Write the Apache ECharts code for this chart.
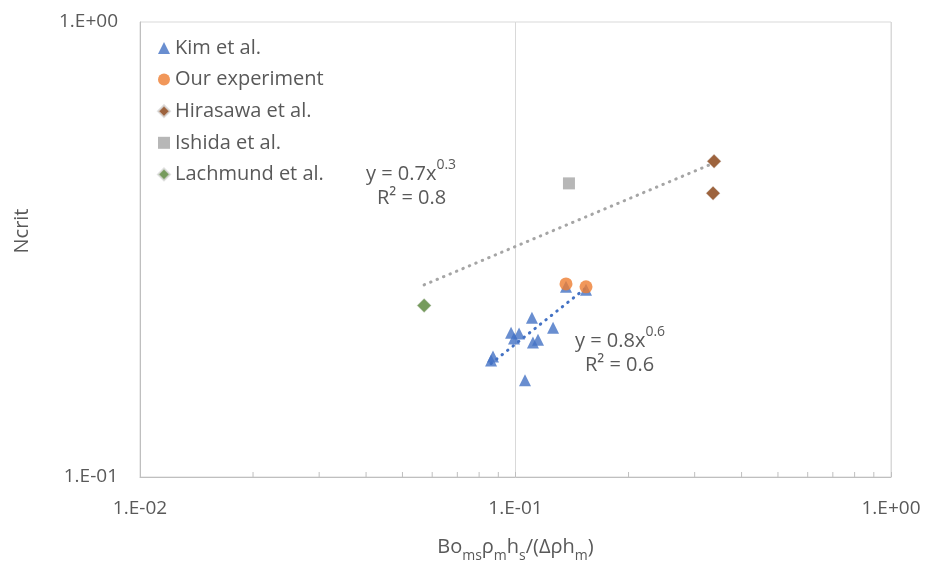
<!DOCTYPE html>
<html><head><meta charset="utf-8">
<script src="https://cdn.jsdelivr.net/npm/echarts@6/dist/echarts.min.js"></script>
<style>html,body{margin:0;padding:0;background:#fff}#c{width:927px;height:568px}</style>
</head><body><div id="c"></div>
<script>
// ---- data ----
const kimX = [0.0861, 0.0871, 0.0973, 0.1022, 0.0991, 0.1106, 0.1259, 0.1113, 0.1148, 0.1060, 0.1363, 0.1541];
const kimY = [0.1803, 0.1840, 0.2076, 0.2066, 0.2015, 0.2239, 0.2129, 0.1975, 0.2004, 0.1631, 0.2618, 0.2578];
const ourX = [0.1363, 0.1541];
const ourY = [0.2657, 0.2618];
const hirX = [0.3379, 0.3358];
const hirY = [0.4940, 0.4204];
const ishX = [0.1388];
const ishY = [0.4419];
const lacX = [0.0571];
const lacY = [0.2382];
// trendline endpoints (power fits as drawn)
const trendGrayX = [0.0571, 0.3379];
const trendGrayY = [0.2644, 0.4900];
const trendBlueX = [0.0861, 0.1541];
const trendBlueY = [0.1776, 0.2604];
const minorTickX = [0.02,0.03,0.04,0.05,0.06,0.07,0.08,0.09,0.2,0.3,0.4,0.5,0.6,0.7,0.8,0.9];
const xTickLabels = {'-2':'1.E-02','-1':'1.E-01','0':'1.E+00'};
const yTickLabels = {'-1':'1.E-01','0':'1.E+00'};
const seriesNames = ['Kim et al.','Our experiment','Hirasawa et al.','Ishida et al.','Lachmund et al.'];

const zip = (a,b) => a.map((v,i) => [v, b[i]]);
const FONT = 'Open Sans';
const TXT = '#595959';
const lab = (map) => (v) => map[String(Math.round(Math.log10(v)))] || '';
const supRich = {
  n: {fontSize: 20, fill: TXT, color: TXT, fontFamily: FONT, lineHeight: 26, verticalAlign: 'bottom'},
  s: {fontSize: 14, fill: TXT, color: TXT, fontFamily: FONT, lineHeight: 17, verticalAlign: 'top'}
};

const chart = echarts.init(document.getElementById('c'));
chart.setOption({
  animation: false,
  backgroundColor: '#fff',
  textStyle: {fontFamily: FONT},
  grid: {left: 140, top: 22, right: 36, bottom: 89, show: true, borderColor: '#d9d9d9', borderWidth: 1},
  xAxis: {
    type: 'log', logBase: 10, min: 0.01, max: 1,
    axisLine: {show: true, lineStyle: {color: '#bfbfbf', width: 1}},
    axisTick: {show: true, inside: true, length: 5, lineStyle: {color: '#bfbfbf'}},
    splitLine: {show: true, lineStyle: {color: '#d9d9d9', width: 1}},
    axisLabel: {formatter: lab(xTickLabels), color: TXT, fontSize: 19, fontFamily: FONT, margin: 22},
    name: '{n|Bo}{s|ms}{n|ρ}{s|m}{n|h}{s|s}{n|/(Δρh}{s|m}{n|)}',
    nameLocation: 'middle', nameGap: 60,
    nameTextStyle: {rich: {
      n: {fontSize: 20, color: TXT, fontFamily: FONT, verticalAlign: 'top', lineHeight: 26},
      s: {fontSize: 14, color: TXT, fontFamily: FONT, verticalAlign: 'bottom', lineHeight: 17}
    }}
  },
  yAxis: {
    type: 'log', logBase: 10, min: 0.1, max: 1,
    axisLine: {show: true, lineStyle: {color: '#bfbfbf', width: 1}},
    axisTick: {show: false},
    splitLine: {show: false},
    axisLabel: {formatter: lab(yTickLabels), color: TXT, fontSize: 19, fontFamily: FONT, margin: 22}
  },
  legend: {
    orient: 'vertical', left: 152, top: 33, itemGap: 11.6, itemWidth: 12, itemHeight: 12,
    textStyle: {color: TXT, fontSize: 20, fontFamily: FONT, lineHeight: 20},
    data: [
      {name: seriesNames[0], icon: 'triangle'},
      {name: seriesNames[1], icon: 'circle'},
      {name: seriesNames[2], icon: 'diamond'},
      {name: seriesNames[3], icon: 'rect'},
      {name: seriesNames[4], icon: 'diamond'}
    ]
  },
  series: [
    {name: seriesNames[0], type: 'scatter', symbol: 'triangle', symbolSize: 12, itemStyle: {color: '#4472C4'}, data: zip(kimX, kimY), z: 3},
    {name: 'trendBlue', type: 'line', data: zip(trendBlueX, trendBlueY), symbol: 'none', silent: true,
      lineStyle: {color: '#4472C4', width: 3, type: [0.5, 6.5], cap: 'round'}, z: 4},
    {name: seriesNames[1], type: 'scatter', symbol: 'circle', symbolSize: 13, itemStyle: {color: '#ED7D31'}, data: zip(ourX, ourY), z: 5},
    {name: seriesNames[2], type: 'scatter', symbol: 'diamond', symbolSize: 14, itemStyle: {color: '#843C0C', borderColor: '#d9d9d9', borderWidth: 0.5}, data: zip(hirX, hirY), z: 3},
    {name: seriesNames[3], type: 'scatter', symbol: 'rect', symbolSize: 12, itemStyle: {color: '#A5A5A5'}, data: zip(ishX, ishY), z: 3},
    {name: seriesNames[4], type: 'scatter', symbol: 'diamond', symbolSize: 14, itemStyle: {color: '#548235', borderColor: '#d9d9d9', borderWidth: 0.5}, data: zip(lacX, lacY), z: 3},
    {name: 'trendGray', type: 'line', data: zip(trendGrayX, trendGrayY), symbol: 'none', silent: true,
      lineStyle: {color: '#A5A5A5', width: 3, type: [0.5, 6.5], cap: 'round'}, z: 4},
    {name: 'minorTicks', type: 'custom', silent: true, z: 1,
      data: minorTickX.map(x => [x, 0.1]),
      renderItem: (params, api) => {
        const p = api.coord([api.value(0), api.value(1)]);
        return {type: 'line', shape: {x1: p[0], y1: p[1], x2: p[0], y2: p[1] - 5}, style: {stroke: '#bfbfbf', lineWidth: 1}};
      }}
  ],
  graphic: [
    {type: 'text', x: 22, y: 231, rotation: Math.PI / 2, style: {text: 'Ncrit', fontSize: 20, fill: TXT, fontFamily: FONT, align: 'center', verticalAlign: 'middle'}},
    {type: 'text', left: 366, top: 158, style: {text: '{n|y = 0.7x}{s|0.3}', rich: supRich}},
    {type: 'text', left: 377, top: 188, style: {text: 'R² = 0.8', fontSize: 20, fill: TXT, fontFamily: FONT}},
    {type: 'text', left: 575, top: 325, style: {text: '{n|y = 0.8x}{s|0.6}', rich: supRich}},
    {type: 'text', left: 585, top: 355, style: {text: 'R² = 0.6', fontSize: 20, fill: TXT, fontFamily: FONT}}
  ]
});
</script></body></html>
